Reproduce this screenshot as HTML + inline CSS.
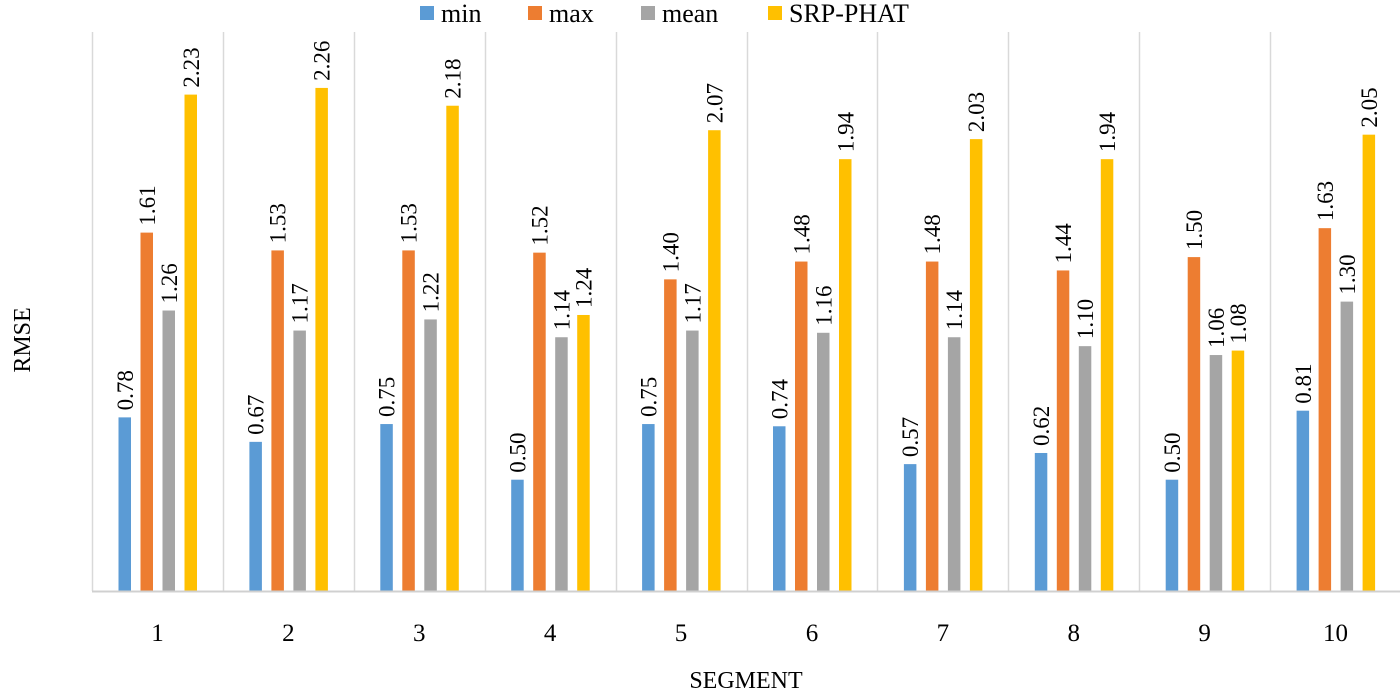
<!DOCTYPE html>
<html><head><meta charset="utf-8"><style>
body{margin:0;background:#fff;}
svg text{font-family:"Liberation Serif",serif;fill:#000;}
</style></head><body>
<svg id="chart" width="1400" height="689" viewBox="0 0 1400 689" xmlns="http://www.w3.org/2000/svg">
<g id="grid"></g>
<g id="bars"></g>
<g id="labels"></g>
<g id="xticks"></g>
<line x1="92" y1="591.5" x2="1400" y2="591.5" stroke="#d0d0d0" stroke-width="2"/>
<text x="0" y="0" font-size="24" text-anchor="middle" transform="translate(30,340) rotate(-90)">RMSE</text>
<text x="746" y="688" font-size="24" text-anchor="middle">SEGMENT</text>
<g>
<rect x="420" y="6" width="14" height="14" fill="#5b9bd5"/>
<text x="441" y="22" font-size="26">min</text>
<rect x="528" y="6" width="14" height="14" fill="#ed7d31"/>
<text x="549" y="22" font-size="26">max</text>
<rect x="641" y="6" width="14" height="14" fill="#a5a5a5"/>
<text x="662" y="22" font-size="26">mean</text>
<rect x="768" y="6" width="14" height="14" fill="#ffc000"/>
<text x="789" y="22" font-size="26">SRP-PHAT</text>
</g>
</svg>
<script>
const categories = ["1","2","3","4","5","6","7","8","9","10"];
const minVals  = [0.78,0.67,0.75,0.50,0.75,0.74,0.57,0.62,0.50,0.81];
const maxVals  = [1.61,1.53,1.53,1.52,1.40,1.48,1.48,1.44,1.50,1.63];
const meanVals = [1.26,1.17,1.22,1.14,1.17,1.16,1.14,1.10,1.06,1.30];
const srpVals  = [2.23,2.26,2.18,1.24,2.07,1.94,2.03,1.94,1.08,2.05];
const seriesNames = ["min","max","mean","srp-phat"];
const seriesColors = ["#5b9bd5","#ed7d31","#a5a5a5","#ffc000"];
const NS="http://www.w3.org/2000/svg";
const x0=92, catW=130.9, baseY=591, pxPerUnit=222.6;
const yScale=v=>baseY-v*pxPerUnit;
const xCat=i=>x0+i*catW;
const grid=document.getElementById('grid'),bars=document.getElementById('bars'),labels=document.getElementById('labels'),xt=document.getElementById('xticks');
for(let i=0;i<=categories.length;i++){
  const l=document.createElementNS(NS,'line');
  
  
  const x=Math.round(xCat(i))+0.5;
  l.setAttribute('x1',x);l.setAttribute('x2',x);l.setAttribute('y1',32);l.setAttribute('y2',591);
  l.setAttribute('stroke','#d9d9d9');l.setAttribute('stroke-width','1.5');
  grid.appendChild(l);
}
const all=[minVals,maxVals,meanVals,srpVals];
categories.forEach((c,i)=>{
  const t=document.createElementNS(NS,'text');
  
  
  t.setAttribute('x',xCat(i)+catW/2);t.setAttribute('y',641);
  t.setAttribute('font-size','25');t.setAttribute('text-anchor','middle');
  t.textContent=c;xt.appendChild(t);
  all.forEach((arr,s)=>{
    const v=arr[i];
    const bx=xCat(i)+26.5+s*22, bw=12.5, top=yScale(v);
    const r=document.createElementNS(NS,'rect');
    
    
    r.setAttribute('x',bx);r.setAttribute('y',top);r.setAttribute('width',bw);r.setAttribute('height',baseY-top);
    r.setAttribute('fill',seriesColors[s]);
    bars.appendChild(r);
    const lt=document.createElementNS(NS,'text');
    
    
    lt.setAttribute('font-size','23');
    lt.setAttribute('transform','translate('+(bx+bw/2+8)+','+(top-7)+') rotate(-90)');
    lt.textContent=v.toFixed(2);
    labels.appendChild(lt);
  });
});
</script>
</body></html>
